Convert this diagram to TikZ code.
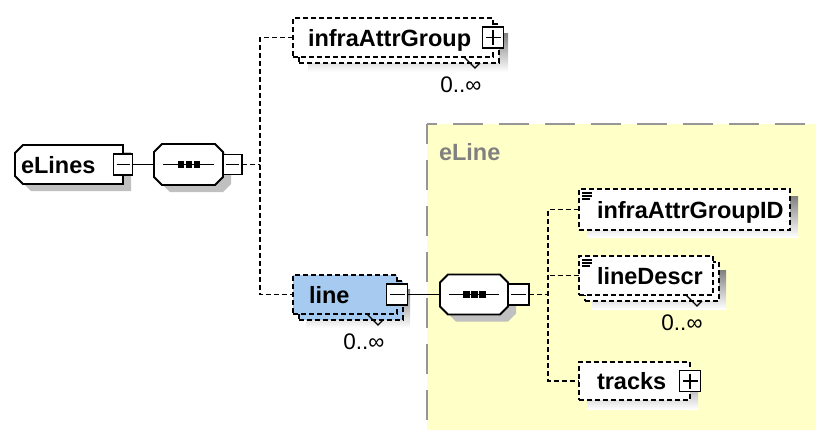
\documentclass[tikz,border=0pt]{standalone}
\usepackage{fontspec}
\setmainfont{Liberation Sans}
\usetikzlibrary{backgrounds}
\definecolor{shade}{RGB}{192,192,192}
\definecolor{typeblue}{RGB}{166,202,240}
\definecolor{groupfill}{RGB}{255,255,200}
\definecolor{groupline}{RGB}{150,150,150}
\definecolor{grouptext}{RGB}{128,128,128}

% octagonal compositor outline around node #1, path options #2
\newcommand\octagon[2]{\path[#2] ([xshift=8pt]#1.north west) -- ([xshift=-8pt]#1.north east)
  -- ([yshift=-8pt]#1.north east) -- ([yshift=8pt]#1.south east)
  -- ([xshift=-8pt]#1.south east) -- ([xshift=8pt]#1.south west)
  -- ([yshift=8pt]#1.south west) -- ([yshift=-8pt]#1.north west) -- cycle;}
% element outline with both left corners cut
\newcommand\leftcut[2]{\path[#2] ([xshift=8pt]#1.north west) -- (#1.north east)
  -- (#1.south east) -- ([xshift=8pt]#1.south west)
  -- ([yshift=8pt]#1.south west) -- ([yshift=-8pt]#1.north west) -- cycle;}
% sequence glyph: a line with three dots
\newcommand\seqglyph[1]{%
  \draw[link] ([xshift=9pt]#1.west) -- ([xshift=-9pt]#1.east);
  \fill ([xshift=-11pt,yshift=-3.5pt]#1.center) rectangle ([xshift=-4.5pt,yshift=3.5pt]#1.center);
  \fill ([xshift=-3pt,yshift=-3.5pt]#1.center) rectangle ([xshift=3.5pt,yshift=3.5pt]#1.center);
  \fill ([xshift=5pt,yshift=-3.5pt]#1.center) rectangle ([xshift=11.5pt,yshift=3.5pt]#1.center);}
% collapse / expand marks in a toggle box
\newcommand\tglminus[1]{\draw[line width=1.7pt] ([xshift=3pt]#1.west) -- ([xshift=-3pt]#1.east);}
\newcommand\tglplus[1]{\tglminus{#1}\draw[line width=1.7pt] ([yshift=-3pt]#1.north) -- ([yshift=3pt]#1.south);}
% simple-content icon in the top left corner of an element
\newcommand\fieldicon[1]{%
  \draw[line width=1.2pt] ([xshift=3pt,yshift=-4pt]#1.north west) -- ++(10pt,0pt);
  \draw[line width=1.2pt] ([xshift=3pt,yshift=-7pt]#1.north west) -- ++(10pt,0pt);
  \draw[line width=1.2pt] ([xshift=3pt,yshift=-10pt]#1.north west) -- ++(8pt,0pt);}

\begin{document}
\begin{tikzpicture}[x=1pt,y=-1pt,
  every node/.style={inner sep=0pt, outer sep=0pt},
  dashline/.style={line width=1.9pt, dash pattern=on 5pt off 3pt},
  link/.style={line width=1.9pt},
  elem/.style={draw, fill=white, line width=1.9pt, dash pattern=on 5pt off 3pt},
  solidbox/.style={draw, fill=white, line width=1.9pt},
  toggle/.style={draw, fill=white, line width=1.9pt, solid, minimum width=20pt, minimum height=21pt},
  elname/.style={anchor=base west, font=\bfseries\fontsize{23.5}{28}\selectfont},
  occurs/.style={anchor=base, font=\fontsize{22.5}{27}\selectfont},
  occtick/.style={line width=1.2pt},
]
\useasboundingbox (0,0) rectangle (816,429);

% ---------- root element and its sequence ----------
\node[minimum width=108pt, minimum height=39pt] (elines) at (69,164.5) {};
\leftcut{elines}{solidbox}
\node[elname] (elinestxt) at (21,173) {eLines};
\node[toggle, minimum width=19pt] (elinest) at (elines.east) {};
\tglminus{elinest}

\node[minimum width=69pt, minimum height=41pt] (seq1) at (188.5,164.5) {};
\octagon{seq1}{solidbox}
\seqglyph{seq1}
\node[toggle, minimum width=19pt, minimum height=20pt, anchor=west] (seq1t) at (seq1.east) {};
\tglminus{seq1t}

% ---------- infraAttrGroup (repeated) ----------
\node[elem, minimum width=200pt, minimum height=39pt] (iagb) at (399,43.5) {};
\node[elem, minimum width=200pt, minimum height=39pt] (iag) at (393,37.5) {};
\node[elname] (iagtxt) at (308,46) {infraAttrGroup};
\node[toggle, minimum width=21pt] (iagt) at (iag.east) {};
\tglplus{iagt}
\draw[occtick] ([xshift=-29pt]iag.south east) -- ++(11,11) -- ++(5,-5);
\node[occurs] (iagocc) at (461,92) {0..∞};

% ---------- line (repeated, complex type) ----------
\node[elem, fill=typeblue, minimum width=104pt, minimum height=39pt] (lnb) at (351,300.5) {};
\node[elem, fill=typeblue, minimum width=104pt, minimum height=39pt] (ln) at (345,294.5) {};
\node[elname] (lntxt) at (309,303) {line};
\node[toggle, minimum width=21pt] (lnt) at (ln.east) {};
\tglminus{lnt}
\draw[occtick] ([xshift=-30pt]ln.south east) -- ++(11,11) -- ++(5,-5);
\node[occurs] (lnocc) at (364,349) {0..∞};

% ---------- type eLine ----------
\node[anchor=base west, font=\bfseries\fontsize{23.5}{28}\selectfont, text=grouptext] (typename) at (439,160) {eLine};

\node[minimum width=68pt, minimum height=40pt] (seq2) at (474,294.5) {};
\octagon{seq2}{solidbox}
\seqglyph{seq2}
\node[toggle, minimum width=21pt, anchor=west] (seq2t) at (seq2.east) {};
\tglminus{seq2t}

\node[elem, minimum width=211pt, minimum height=41pt] (iagid) at (684.5,209.5) {};
\fieldicon{iagid}
\node[elname] (iagidtxt) at (597,218) {infraAttrGroupID};

\node[elem, minimum width=134pt, minimum height=39pt] (ldb) at (652,281.5) {};
\node[elem, minimum width=134pt, minimum height=39pt] (ld) at (646,275.5) {};
\fieldicon{ld}
\node[elname] (ldtxt) at (597,284) {lineDescr};
\draw[occtick] ([xshift=-27pt]ld.south east) -- ++(11,11) -- ++(5,-5);
\node[occurs] (ldocc) at (682,330) {0..∞};

\node[elem, minimum width=111pt, minimum height=38pt] (tr) at (634.5,381) {};
\node[elname] (trtxt) at (597,389) {tracks};
\node[toggle, minimum width=21pt] (trt) at (tr.east) {};
\tglplus{trt}

% ---------- connectors ----------
\coordinate (bus1) at (260,164.5);
\coordinate (bus2) at (548,294.5);
\draw[link] (elinest.east) -- (seq1.west);
\draw[dashline] (seq1t.east) -- (bus1);
\draw[dashline] (iag.west) -| (bus1) |- (ln.west);
\draw[link] (lnt.east) -- (seq2.west);
\draw[dashline] (seq2t.east) -- (bus2);
\draw[dashline] (iagid.west) -| (bus2) |- (tr.west);
\draw[dashline] (ld.west) -- (ld.west -| bus2);

% ---------- background: type area and drop shadows ----------
\begin{pgfonlayer}{background}
  \fill[groupfill] (427,124) rectangle (820,432);
  \draw[groupline, line width=2.4pt, dash pattern=on 30pt off 16pt, dash phase=20pt] (427,124) -- (820,124);
  \draw[groupline, line width=2.4pt, dash pattern=on 30pt off 16pt, dash phase=10pt] (427,124) -- (427,432);
  \begin{scope}[transform canvas={xshift=8pt,yshift=-7pt}]
    \leftcut{elines}{fill=shade}
    \octagon{seq1}{fill=shade}
    \octagon{seq2}{fill=shade}
    \fill[shade] (iagid.north west) rectangle (iagid.south east);
  \end{scope}
  \begin{scope}[transform canvas={xshift=8pt,yshift=-9pt}]
    \fill[shade] (tr.north west) rectangle (tr.south east);
  \end{scope}
  \begin{scope}[transform canvas={xshift=15pt,yshift=-15pt}]
    \fill[shade] (iag.north west) rectangle (iag.south east);
  \end{scope}
  \begin{scope}[transform canvas={xshift=13pt,yshift=-14pt}]
    \fill[shade] (ln.north west) rectangle (ln.south east);
    \fill[shade] (ld.north west) rectangle (ld.south east);
  \end{scope}
\end{pgfonlayer}
\end{tikzpicture}
\end{document}
